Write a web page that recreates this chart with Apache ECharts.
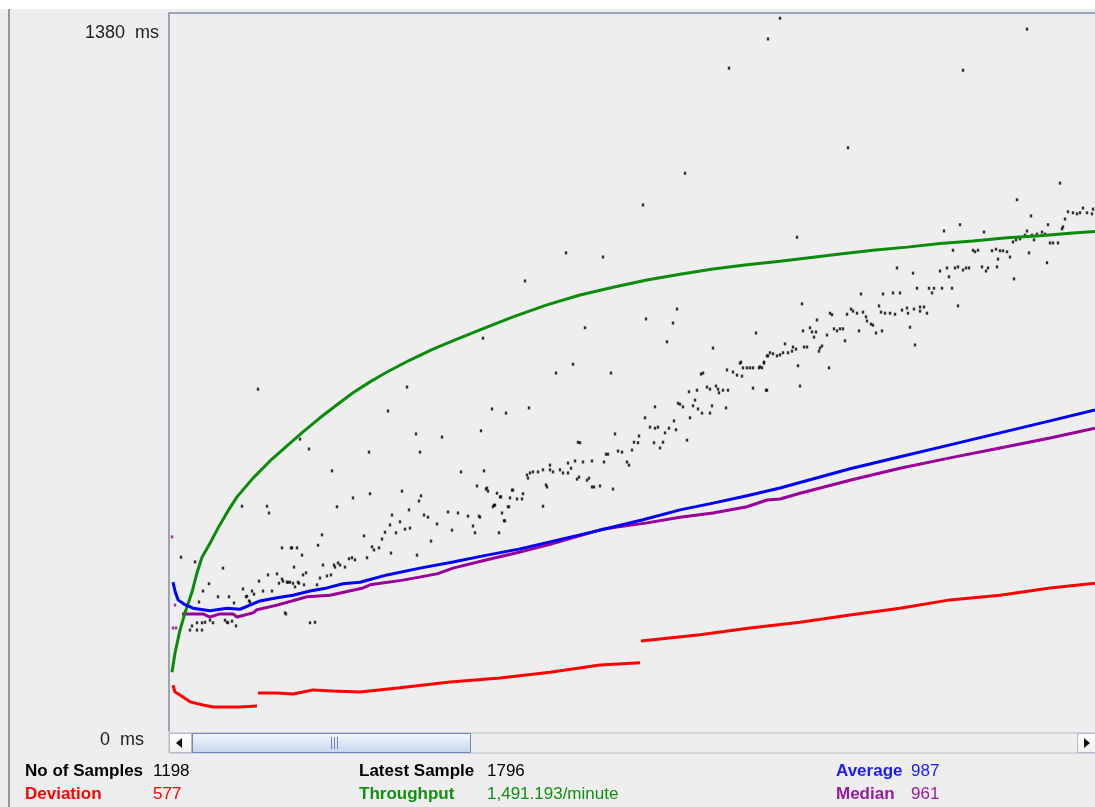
<!DOCTYPE html>
<html>
<head>
<meta charset="utf-8">
<script src="https://cdn.jsdelivr.net/npm/echarts@6/dist/echarts.min.js"></script>
<style>
html,body{margin:0;padding:0;background:#eeeeee;}
#chart{width:1095px;height:807px;}
</style>
</head>
<body>
<div id="chart"></div>
<script>
// ---- data (sample index, milliseconds) ----
const yTickValues = [1380, 0];
const yTickUnit = '  ms';

const samples = [
[11,334],[25,325],[53,313],[39,283],[33,269],[29,248],[48,258],[64,246],[73,273],[82,269],[89,288],[93,269],[84,263],[76,258],[80,248],[102,269],[98,300],[107,302],[112,352],[122,352],[127,352],[132,338],[124,315],[109,284],[113,288],[118,286],[123,284],[128,286],[133,300],[136,304],[134,281],[152,377],[148,357],[153,319],[164,319],[168,323],[175,315],[182,333],[150,294],[147,281],[115,227],[140,208],[145,209],[15,229],[22,202],[20,194],[27,194],[32,194],[27,208],[32,208],[35,209],[40,213],[43,208],[55,213],[58,208],[62,211],[66,202],
[88,657],[237,661],[218,615],[246,571],[272,565],[311,577],[322,619],[336,611],[130,561],[139,542],[199,536],[250,536],[162,500],[291,498],[314,500],[72,432],[97,432],[99,419],[167,431],[183,448],[200,456],[232,461],[251,452],[249,442],[307,471],[317,467],[327,457],[343,463],[347,446],[330,450],[339,431],[324,434],[332,419],[335,404],[329,381],[305,381],[303,394],[309,413],[298,413],[288,419],[278,421],[282,386],[267,398],[258,411],[254,415],[239,425],[222,415],[230,402],[240,390],[235,388],[226,381],[215,382],[220,396],[261,365],[247,338],[221,342],[212,369],[209,352],[204,348],[202,354],[194,375],[197,333],[185,329],[179,331],[170,319],[165,315],[161,300],[157,298],[121,352],[129,284],[125,277],[120,286],[117,286],[112,292],[79,250],[77,259],[59,258],[116,225],[57,209],
[396,919],[433,911],[355,865],[476,792],[507,811],[503,784],[415,775],[313,755],[497,748],[586,765],[543,736],[403,705],[386,688],[441,688],[600,727],[607,721],[598,721],[570,707],[577,698],[583,698],[590,700],[594,707],[557,694],[563,690],[567,684],[572,682],[531,686],[533,688],[359,621],[485,623],[519,652],[527,655],[537,661],[540,657],[546,663],[548,657],[553,655],[558,655],[549,650],[583,659],[596,655],[556,621],[542,625],[540,611],[532,611],[528,619],[525,636],[523,625],[520,602],[513,623],[510,628],[508,630],[504,596],[506,579],[499,582],[495,573],[488,584],[485,582],[480,584],[475,602],[469,567],[468,554],[464,555],[462,540],[493,555],[490,544],[484,554],[517,559],[445,571],[408,555],[410,554],[436,532],[438,532],[448,538],[452,536],[457,517],[459,511],[422,519],[413,517],[405,519],[434,517],[398,515],[401,505],[398,496],[380,511],[380,502],[373,502],[363,498],[368,498],[360,496],[357,492],[358,486],[383,498],[390,502],[393,496],[407,484],[409,488],[419,486],[417,482],[424,469],[430,471],[422,469],[443,465],[376,473],[377,469],[316,465],[318,461],[331,450],[342,463],[340,448],[352,446],[353,456],[325,434],[323,431],[338,431],[334,404],[310,411],[373,432],
[627,949],[847,1021],[890,1053],[861,990],[790,973],[774,961],[814,959],[878,973],[895,984],[898,998],[903,996],[907,994],[910,996],[913,1005],[917,996],[922,994],[923,1003],[893,969],[892,965],[857,961],[855,953],[850,946],[846,944],[843,940],[864,944],[862,953],[867,955],[872,959],[875,955],[880,938],[883,938],[888,938],[859,919],[877,900],[844,869],[840,911],[837,921],[833,923],[830,923],[826,926],[822,923],[828,907],[827,892],[818,890],[816,884],[812,892],[808,924],[805,921],[803,924],[783,924],[799,890],[796,890],[793,886],[788,892],[785,890],[779,873],[777,890],[770,884],[782,851],[788,817],[772,851],[764,851],[762,842],[759,851],[747,851],[743,880],[727,890],[730,842],[723,842],[713,840],[709,817],[711,805],[715,803],[720,803],[725,801],[732,809],[737,813],[738,803],[744,811],[750,815],[754,815],[757,803],[750,807],[740,776],[745,742],[712,769],[706,765],[703,780],[701,782],[697,788],[696,796],[693,805],[691,840],[689,769],[687,803],[683,807],[681,811],[677,801],[660,803],[662,800],[647,790],[657,761],[664,773],[667,769],[670,773],[673,773],[675,750],[632,821],[633,769],[640,775],[642,767],[646,767],[644,757],[652,740],[650,736],[649,730],[634,738],[637,738],[626,734],[623,738],[622,730],[618,727],[615,744],[613,727],[610,723],[603,725],[597,721],[594,709],[589,698],[592,698],[573,698],[580,698],[571,709],[597,655],[628,702],[630,663],[659,698],
[610,1370],[598,1330],[559,1274],[857,1349],[793,1270],[678,1121],[515,1072],[473,1011]
];

const throughput = [[2,113],[5,150],[10,194],[15,227],[22,267],[27,304],[32,334],[40,361],[48,390],[58,423],[67,450],[83,486],[100,519],[117,548],[133,575],[150,602],[167,627],[183,650],[200,671],[217,690],[240,713],[263,734],[287,753],[310,771],[343,796],[377,819],[410,838],[443,853],[477,867],[510,878],[543,888],[577,896],[610,903],[637,909],[670,917],[703,924],[737,930],[770,937],[803,942],[837,948],[870,952],[903,957],[925,960]];

const average = [[3,286],[5,269],[8,252],[14,244],[23,236],[40,231],[57,236],[70,234],[90,250],[107,256],[123,261],[140,269],[157,275],[173,283],[190,286],[217,300],[250,313],[283,325],[317,338],[350,350],[410,377],[443,392],[473,406],[510,425],[543,438],[577,452],[610,467],[680,504],[730,527],[780,550],[830,573],[880,596],[925,617]];

const medianEarly = [[2,373],[3,198],[6,198],[5,242]];
const median = [[12,225],[33,225],[40,219],[50,225],[63,225],[67,219],[83,227],[87,233],[107,242],[137,258],[160,261],[193,275],[200,281],[233,290],[267,302],[283,313],[317,329],[350,344],[380,359],[433,388],[477,400],[510,411],[543,419],[577,431],[597,444],[610,446],[630,457],[680,482],[730,505],[780,525],[830,544],[880,563],[925,582]];

const deviation = [[3,88],[5,75],[10,69],[20,56],[33,50],[43,46],[70,46],[87,48],[87.5,null],[88,73],[107,73],[123,71],[133,75],[143,79],[163,77],[190,75],[230,83],[280,94],[330,102],[380,113],[430,127],[470,131],[470.5,null],[471,173],[530,185],[580,198],[630,209],[680,223],[730,236],[780,252],[830,261],[880,275],[925,284]];

const statLabels = ['No of Samples', 'Deviation', 'Latest Sample', 'Throughput', 'Average', 'Median'];
const statValues = ['1198', '577', '1796', '1,491.193/minute', '987', '961'];

// ---- styles ----
const FONT = '"Liberation Sans", Arial, sans-serif';
const statColors = ['#000000', '#ff0000', '#000000', '#0f900f', '#1a1aff', '#9a1a9e'];
const statPos = [[25,771,153],[25,794,153],[359,771,487],[359,794,487],[836,771,911],[836,794,911]];
const C_GREEN = '#0a8c0a', C_BLUE = '#0000ff', C_PURPLE = '#990099', C_RED = '#ff0000';
const BORDER = '#9aa6b8';

const graphics = [];
graphics.push({type:'rect', shape:{x:0,y:0,width:1095,height:9}, style:{fill:'#ffffff'}, silent:true});
graphics.push({type:'rect', shape:{x:8,y:9,width:2,height:798}, style:{fill:'#8e99a8'}, silent:true});

const yLabelPos = [33, 740];
yTickValues.forEach((v, i) => {
  graphics.push({type:'text', x:122, y:yLabelPos[i], style:{text: v + yTickUnit, font:'18px ' + FONT, fill:'#222222', align:'center', verticalAlign:'middle'}});
});

// scrollbar
graphics.push({type:'rect', shape:{x:169,y:733,width:926,height:20}, style:{fill:'#eeeeee', stroke:'#b4bcc8', lineWidth:1}, silent:true});
graphics.push({type:'rect', shape:{x:169.5,y:733.5,width:22,height:19}, style:{fill:{type:'linear',x:0,y:0,x2:0,y2:1,colorStops:[{offset:0,color:'#ffffff'},{offset:1,color:'#f0f0f0'}]}, stroke:'#b4bcc8', lineWidth:1}, silent:true});
graphics.push({type:'polygon', shape:{points:[[176,743],[182,738],[182,748]]}, style:{fill:'#111111'}, silent:true});
graphics.push({type:'rect', shape:{x:192.5,y:733.5,width:278,height:19}, style:{fill:{type:'linear',x:0,y:0,x2:0,y2:1,colorStops:[{offset:0,color:'#f6f9fd'},{offset:0.5,color:'#dbe6f4'},{offset:1,color:'#c4d5ec'}]}, stroke:'#7088b8', lineWidth:1}, silent:true});
[331,334,337].forEach(x => graphics.push({type:'line', shape:{x1:x+0.5,y1:737,x2:x+0.5,y2:749}, style:{stroke:'#6f86b4', lineWidth:1}, silent:true}));
graphics.push({type:'rect', shape:{x:1077.5,y:733.5,width:18,height:19}, style:{fill:{type:'linear',x:0,y:0,x2:0,y2:1,colorStops:[{offset:0,color:'#ffffff'},{offset:1,color:'#f0f0f0'}]}, stroke:'#b4bcc8', lineWidth:1}, silent:true});
graphics.push({type:'polygon', shape:{points:[[1090,743],[1084,738],[1084,748]]}, style:{fill:'#111111'}, silent:true});

statLabels.forEach((lab, i) => {
  const p = statPos[i];
  graphics.push({type:'text', x:p[0], y:p[1], style:{text:lab, font:'bold 17px ' + FONT, fill:statColors[i], verticalAlign:'middle'}});
  graphics.push({type:'text', x:p[2], y:p[1], style:{text:statValues[i], font:'17px ' + FONT, fill:statColors[i], verticalAlign:'middle'}});
});

const chart = echarts.init(document.getElementById('chart'), null, {renderer:'canvas'});
chart.setOption({
  animation:false,
  backgroundColor:'#eeeeee',
  grid:{left:169, right:0, top:13, bottom:76, containLabel:false},
  xAxis:{type:'value', min:-1, max:925, position:'top',
    axisLine:{show:true, onZero:false, lineStyle:{color:BORDER, width:2}},
    axisTick:{show:false}, axisLabel:{show:false}, splitLine:{show:false}},
  yAxis:{type:'value', min:0, max:1380,
    axisLine:{show:true, onZero:false, lineStyle:{color:BORDER, width:2}},
    axisTick:{show:false}, axisLabel:{show:false}, splitLine:{show:false}},
  series:[
    {type:'scatter', data:samples, symbol:'rect', symbolSize:[2.4,3], itemStyle:{color:'#000000'}, silent:true, z:2},
    {type:'line', data:deviation, showSymbol:false, connectNulls:false, lineStyle:{color:C_RED, width:3}, silent:true, z:3},
    {type:'scatter', data:medianEarly, symbol:'rect', symbolSize:[2.4,3], itemStyle:{color:C_PURPLE}, silent:true, z:3},
    {type:'line', data:median, showSymbol:false, lineStyle:{color:C_PURPLE, width:3}, silent:true, z:3},
    {type:'line', data:average, showSymbol:false, lineStyle:{color:C_BLUE, width:3}, silent:true, z:4},
    {type:'line', data:throughput, showSymbol:false, lineStyle:{color:C_GREEN, width:3}, silent:true, z:3}
  ],
  graphic:graphics
});
</script>
</body>
</html>
